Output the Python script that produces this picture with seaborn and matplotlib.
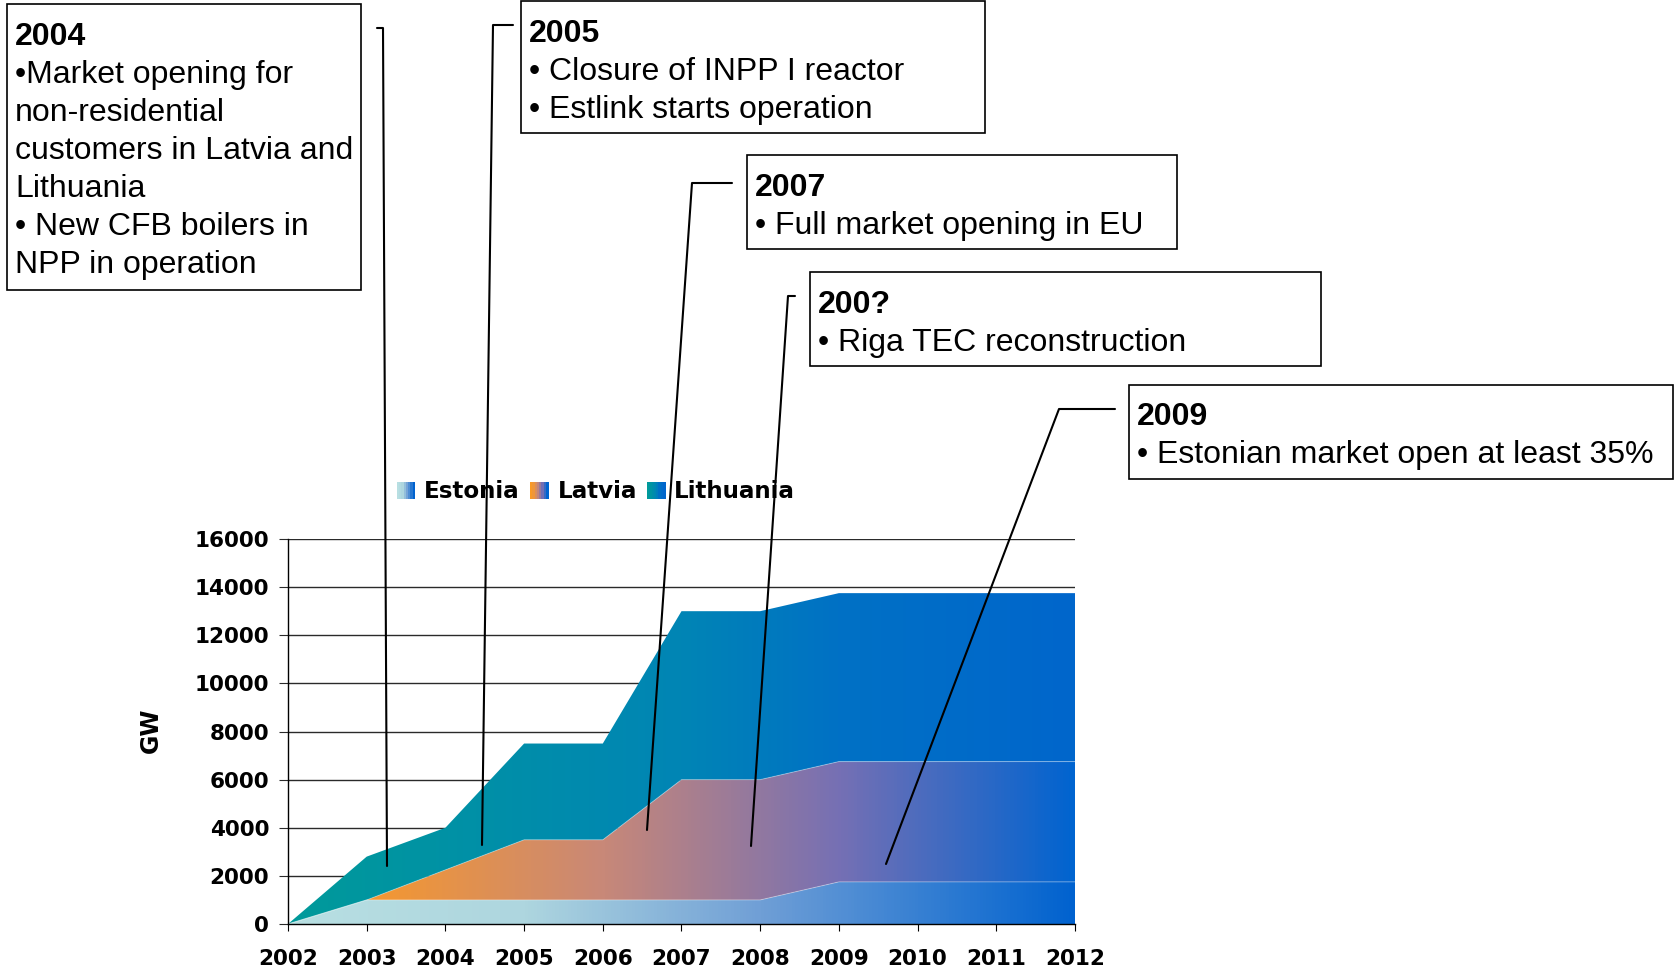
import numpy as np
import matplotlib
matplotlib.use('Agg')
import matplotlib.pyplot as plt
import seaborn as sns
from matplotlib.colors import LinearSegmentedColormap
from matplotlib.patches import Rectangle, Patch
from matplotlib.lines import Line2D
from matplotlib.legend_handler import HandlerBase

# Data (GW, stacked)
years = [2002, 2003, 2004, 2005, 2006, 2007, 2008, 2009, 2010, 2011, 2012]
estonia = [0, 1000, 1000, 1000, 1000, 1000, 1000, 1750, 1750, 1750, 1750]
latvia = [0, 0, 1250, 2500, 2500, 5000, 5000, 5000, 5000, 5000, 5000]
lithuania = [0, 1800, 1750, 4000, 4000, 7000, 7000, 7000, 7000, 7000, 7000]
y_ticks = [0, 2000, 4000, 6000, 8000, 10000, 12000, 14000, 16000]
series_names = ['Estonia', 'Latvia', 'Lithuania']

# Callout boxes
note_titles = ['2004', '2005', '2007', '200?', '2009']
note_bodies = [
    ['\u2022Market opening for', 'non-residential', 'customers in Latvia and',
     'Lithuania', '\u2022 New CFB boilers in', 'NPP in operation'],
    ['\u2022 Closure of INPP I reactor', '\u2022 Estlink starts operation'],
    ['\u2022 Full market opening in EU'],
    ['\u2022 Riga TEC reconstruction'],
    ['\u2022 Estonian market open at least 35%'],
]

W, H = 1675, 976

# box rectangles in pixels (left, top, right, bottom), first baseline
boxes = [(7, 4, 361, 290, 45), (521, 1, 985, 133, 42), (747, 155, 1177, 249, 196),
         (810, 272, 1321, 366, 313), (1129, 385, 1673, 479, 425)]
# leader lines in pixels
leaders = [
    [(377, 28), (383, 28), (387, 866)],
    [(513, 25), (493, 25), (482, 845)],
    [(732, 183), (692, 183), (647, 830)],
    [(795, 296), (788, 296), (751, 846)],
    [(1115, 409), (1059, 409), (886, 864)],
]

cmaps = {
    'Estonia': LinearSegmentedColormap.from_list(
        'est', [(0, '#b8dfe2'), (0.3, '#aed6df'), (0.6, '#709fd6'), (1, '#0062cf')]),
    'Latvia': LinearSegmentedColormap.from_list(
        'lat', [(0, '#f99a26'), (0.1, '#f5982f'), (0.4, '#c88878'), (0.7, '#7670b4'), (1, '#0064d0')]),
    'Lithuania': LinearSegmentedColormap.from_list(
        'lit', [(0, '#009a9a'), (0.5, '#0085b5'), (0.7, '#0071c5'), (1, '#0066cc')]),
}


def px(x, y):
    return x / W, 1 - y / H


class GradientHandler(HandlerBase):
    def __init__(self, cmap):
        super().__init__()
        self.cmap = cmap

    def create_artists(self, legend, orig_handle, xdescent, ydescent,
                       width, height, fontsize, trans):
        n = 8
        arts = []
        for i in range(n):
            r = Rectangle((-xdescent + i * width / n, -ydescent), width / n + 0.3, height,
                          facecolor=self.cmap(i / (n - 1)), edgecolor='none', transform=trans)
            arts.append(r)
        return arts


def gradient_fill(ax, x, lower, upper, cmap):
    poly = ax.fill_between(x, lower, upper, facecolor='none', edgecolor='none')
    grad = np.linspace(0, 1, 256).reshape(1, -1)
    im = ax.imshow(grad, cmap=cmap, aspect='auto', origin='lower',
                   extent=[years[0], years[-1], 0, 16000], zorder=2)
    im.set_clip_path(poly.get_paths()[0], transform=ax.transData)


sns.set_theme(style='white')
plt.rcParams['font.family'] = ['DejaVu Sans']
for k in ['text.color', 'axes.labelcolor', 'xtick.color', 'ytick.color']:
    plt.rcParams[k] = 'black'

fig = plt.figure(figsize=(W / 100, H / 100), dpi=100)
ax = fig.add_axes([288 / W, 52 / H, (1075 - 288) / W, (924 - 539) / H])

x = np.array(years)
base = np.zeros(len(years))
tops = []
for name, vals in zip(series_names, [estonia, latvia, lithuania]):
    top = base + np.array(vals)
    gradient_fill(ax, x, base, top, cmaps[name])
    tops.append(top)
    base = top

# faint seams between the layers
for top in tops[:-1]:
    sns.lineplot(x=x, y=top, ax=ax, color='white', alpha=0.35, lw=0.7, zorder=3)

ax.set_xlim(years[0], years[-1])
ax.set_ylim(0, 16000)
ax.set_xticks(years)
ax.set_yticks(y_ticks)
ax.set_xticklabels([str(y) for y in years], fontsize=15.5, fontweight='bold')
ax.set_yticklabels([str(v) for v in y_ticks], fontsize=15.5, fontweight='bold')
ax.set_axisbelow(True)
ax.grid(axis='y', color='#2a2a2a', lw=1.0)
ax.grid(axis='x', visible=False)
for s in ['top', 'right']:
    ax.spines[s].set_visible(False)
for s in ['left', 'bottom']:
    ax.spines[s].set_color('black')
    ax.spines[s].set_linewidth(1.0)
    ax.spines[s].set_zorder(4)
ax.tick_params(axis='x', direction='out', length=5, width=0.8, color='black', pad=13, bottom=True)
ax.tick_params(axis='y', direction='out', length=6.5, width=0.8, color='#2a2a2a', pad=7, left=True)
fig.text(*px(151, 730), 'GW', fontsize=17, fontweight='bold', rotation=90,
         ha='center', va='center')

# legend with gradient swatches
handles = [Patch(label=n) for n in series_names]
hmap = {h: GradientHandler(cmaps[n]) for h, n in zip(handles, series_names)}
leg = fig.legend(handles=handles, handler_map=hmap, ncol=3, frameon=False,
                 loc='center left', bbox_to_anchor=px(397, 492), bbox_transform=fig.transFigure,
                 borderpad=0, borderaxespad=0, handlelength=0.78, handleheight=0.78,
                 handletextpad=0.4, columnspacing=0.45,
                 prop={'family': 'DejaVu Sans', 'weight': 'bold', 'size': 16.6})

# callout boxes
for (l, t, r, b, base_y), title, body in zip(boxes, note_titles, note_bodies):
    x0, y0 = px(l, b)
    fig.patches.append(Rectangle((x0, y0), (r - l) / W, (b - t) / H, transform=fig.transFigure,
                                 facecolor='white', edgecolor='black', lw=1.2, zorder=5))
    fig.text(*px(l + 8, base_y), title, fontsize=23, fontweight='bold',
             family='Liberation Sans', va='baseline', zorder=6)
    for i, line in enumerate(body):
        fig.text(*px(l + 8, base_y + 38 * (i + 1)), line, fontsize=23,
                 family='Liberation Sans', va='baseline', zorder=6)

for pts in leaders:
    xs = [px(p[0], p[1])[0] for p in pts]
    ys = [px(p[0], p[1])[1] for p in pts]
    fig.lines.append(Line2D(xs, ys, transform=fig.transFigure, color='black', lw=1.5, zorder=7))

fig.savefig('out.png', dpi=100)
